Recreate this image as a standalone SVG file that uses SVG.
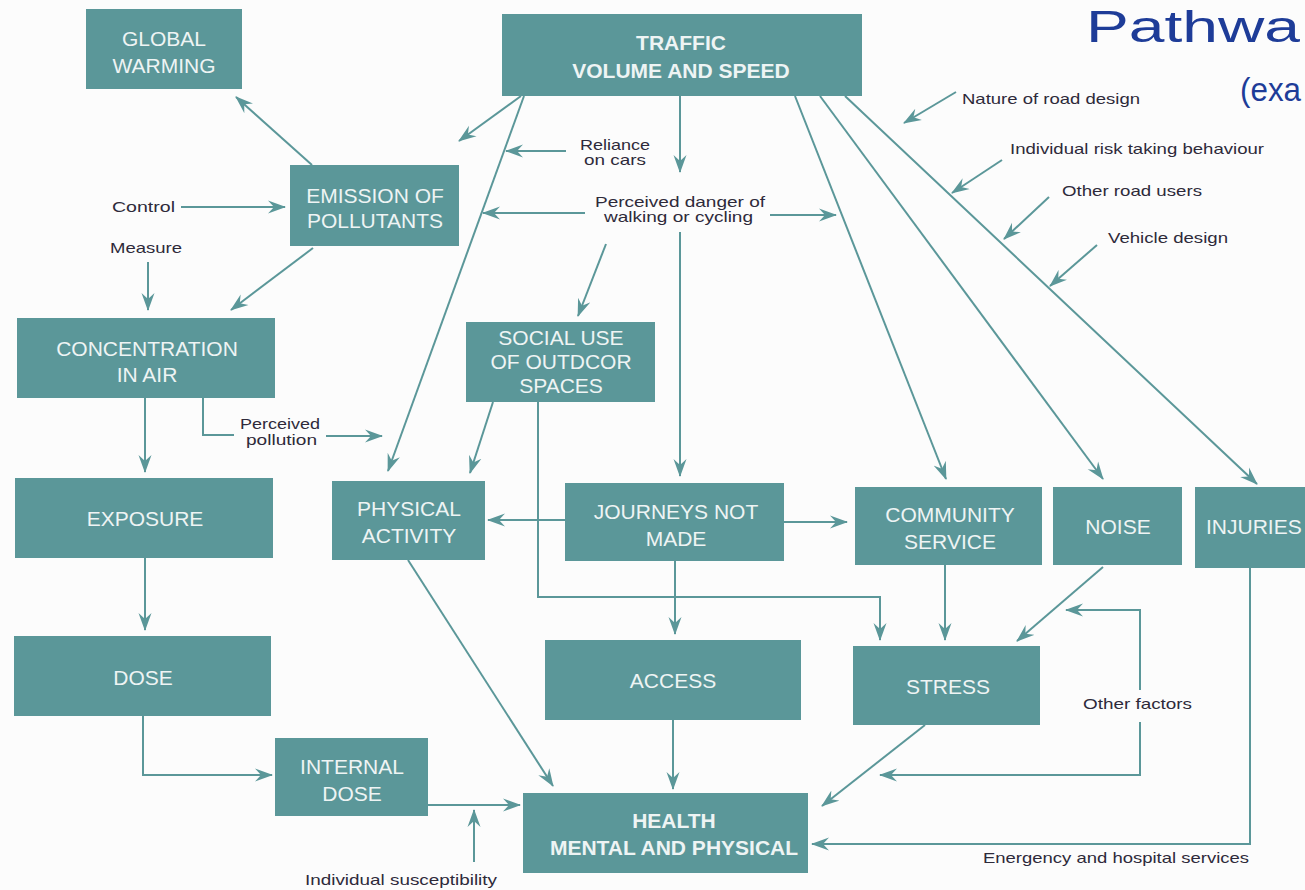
<svg xmlns="http://www.w3.org/2000/svg" width="1305" height="890" viewBox="0 0 1305 890">
<defs>
<marker id="ah" markerUnits="userSpaceOnUse" markerWidth="20" markerHeight="14" refX="17" refY="7" orient="auto">
<path d="M0,0.5 L18,7 L0,13.5 L6,7 z" fill="#5b9799"/>
</marker>
<style>
.n{fill:#5b9799}
.t{font-family:"Liberation Sans",Arial,sans-serif;font-size:21px;fill:#eef4f4;text-anchor:middle}
.b{font-weight:bold}
.l{font-family:"Liberation Sans",Arial,sans-serif;font-size:15px;fill:#2e2a3a}
.c{fill:none;stroke:#5b9799;stroke-width:2}
.a{marker-end:url(#ah)}
.ti{font-family:"Liberation Sans",Arial,sans-serif;fill:#1e3c98}
</style>
</defs>
<rect width="1305" height="890" fill="#fcfcfc"/>
<text class="ti" x="1086" y="42" font-size="44" textLength="214" lengthAdjust="spacingAndGlyphs">Pathwa</text>
<text class="ti" x="1240" y="101" font-size="34" textLength="61" lengthAdjust="spacingAndGlyphs">(exa</text>

<g id="connectors">
<line class="c a" x1="312" y1="165" x2="236" y2="97"/>
<line class="c a" x1="521" y1="96" x2="459" y2="141"/>
<line class="c a" x1="524" y1="96" x2="388" y2="471"/>
<line class="c a" x1="566" y1="151" x2="506" y2="151"/>
<line class="c a" x1="680" y1="96" x2="680" y2="172"/>
<line class="c a" x1="585" y1="213" x2="483" y2="213"/>
<line class="c a" x1="770" y1="215" x2="836" y2="215"/>
<line class="c a" x1="606" y1="244" x2="578" y2="316"/>
<line class="c a" x1="680" y1="232" x2="680" y2="476"/>
<line class="c a" x1="795" y1="96" x2="946" y2="479"/>
<line class="c a" x1="820" y1="96" x2="1103" y2="479"/>
<line class="c a" x1="845" y1="96" x2="1257" y2="484"/>
<line class="c a" x1="956" y1="92" x2="904" y2="123"/>
<line class="c a" x1="1002" y1="160" x2="952" y2="193"/>
<line class="c a" x1="1049" y1="197" x2="1004" y2="239"/>
<line class="c a" x1="1097" y1="245" x2="1050" y2="286"/>
<line class="c a" x1="181" y1="207" x2="285" y2="207"/>
<line class="c a" x1="148" y1="262" x2="148" y2="310"/>
<line class="c a" x1="313" y1="248" x2="231" y2="310"/>
<line class="c a" x1="145" y1="398" x2="145" y2="472"/>
<polyline class="c" points="203,398 203,435 234,435"/>
<line class="c a" x1="326" y1="436" x2="382" y2="436"/>
<line class="c a" x1="493" y1="402" x2="470" y2="473"/>
<polyline class="c a" points="538,402 538,597 880,597 880,640"/>
<line class="c a" x1="565" y1="520" x2="488" y2="520"/>
<line class="c a" x1="784" y1="522" x2="847" y2="522"/>
<line class="c a" x1="675" y1="561" x2="675" y2="634"/>
<line class="c a" x1="945" y1="565" x2="945" y2="640"/>
<line class="c a" x1="1103" y1="567" x2="1017" y2="641"/>
<polyline class="c a" points="1140,690 1140,610 1066,610"/>
<polyline class="c a" points="1140,722 1140,775 880,775"/>
<polyline class="c a" points="1250,568 1250,844 812,844"/>
<line class="c a" x1="925" y1="725" x2="822" y2="806"/>
<line class="c a" x1="673" y1="720" x2="673" y2="789"/>
<line class="c a" x1="408" y1="560" x2="553" y2="786"/>
<line class="c a" x1="145" y1="558" x2="145" y2="630"/>
<polyline class="c a" points="143,716 143,775 272,775"/>
<line class="c a" x1="428" y1="805" x2="520" y2="805"/>
<line class="c a" x1="474" y1="862" x2="474" y2="810"/>
</g>

<g id="labels">
<text class="l" x="962" y="104" textLength="178" lengthAdjust="spacingAndGlyphs">Nature of road design</text>
<text class="l" x="1010" y="154" textLength="254" lengthAdjust="spacingAndGlyphs">Individual risk taking behaviour</text>
<text class="l" x="1062" y="196" textLength="140" lengthAdjust="spacingAndGlyphs">Other road users</text>
<text class="l" x="1108" y="243" textLength="120" lengthAdjust="spacingAndGlyphs">Vehicle design</text>
<text class="l" x="580" y="150" textLength="70" lengthAdjust="spacingAndGlyphs">Reliance</text>
<text class="l" x="584" y="165" textLength="62" lengthAdjust="spacingAndGlyphs">on cars</text>
<text class="l" x="595" y="207" textLength="170" lengthAdjust="spacingAndGlyphs">Perceived danger of</text>
<text class="l" x="604" y="222" textLength="149" lengthAdjust="spacingAndGlyphs">walking or cycling</text>
<text class="l" x="112" y="212" textLength="63" lengthAdjust="spacingAndGlyphs">Control</text>
<text class="l" x="110" y="253" textLength="72" lengthAdjust="spacingAndGlyphs">Measure</text>
<text class="l" x="240" y="429" textLength="80" lengthAdjust="spacingAndGlyphs">Perceived</text>
<text class="l" x="246" y="445" textLength="71" lengthAdjust="spacingAndGlyphs">pollution</text>
<text class="l" x="1083" y="709" textLength="109" lengthAdjust="spacingAndGlyphs">Other factors</text>
<text class="l" x="983" y="863" textLength="266" lengthAdjust="spacingAndGlyphs">Energency and hospital services</text>
<text class="l" x="305" y="885" textLength="192" lengthAdjust="spacingAndGlyphs">Individual susceptibility</text>
</g>

<g id="global-warming"><rect class="n" x="86" y="9" width="156" height="80"/><text class="t" x="164" y="46">GLOBAL</text><text class="t" x="164" y="73">WARMING</text></g>
<g id="traffic"><rect class="n" x="502" y="14" width="360" height="82"/><text class="t b" x="681" y="50">TRAFFIC</text><text class="t b" x="681" y="78">VOLUME AND SPEED</text></g>
<g id="emission"><rect class="n" x="290" y="165" width="169" height="81"/><text class="t" x="375" y="203">EMISSION OF</text><text class="t" x="375" y="228">POLLUTANTS</text></g>
<g id="concentration"><rect class="n" x="17" y="318" width="258" height="80"/><text class="t" x="147" y="356">CONCENTRATION</text><text class="t" x="147" y="382">IN AIR</text></g>
<g id="social-use"><rect class="n" x="466" y="322" width="189" height="80"/><text class="t" x="561" y="345">SOCIAL USE</text><text class="t" x="561" y="369">OF OUTDCOR</text><text class="t" x="561" y="393">SPACES</text></g>
<g id="exposure"><rect class="n" x="15" y="478" width="258" height="80"/><text class="t" x="145" y="526">EXPOSURE</text></g>
<g id="physical-activity"><rect class="n" x="332" y="481" width="153" height="79"/><text class="t" x="409" y="516">PHYSICAL</text><text class="t" x="409" y="543">ACTIVITY</text></g>
<g id="journeys"><rect class="n" x="565" y="483" width="219" height="78"/><text class="t" x="676" y="519">JOURNEYS NOT</text><text class="t" x="676" y="546">MADE</text></g>
<g id="community"><rect class="n" x="855" y="487" width="187" height="78"/><text class="t" x="950" y="522">COMMUNITY</text><text class="t" x="950" y="549">SERVICE</text></g>
<g id="noise"><rect class="n" x="1053" y="487" width="129" height="78"/><text class="t" x="1118" y="534">NOISE</text></g>
<g id="injuries"><rect class="n" x="1195" y="487" width="115" height="81"/><text class="t" x="1206" y="534" style="text-anchor:start">INJURIES</text></g>
<g id="dose"><rect class="n" x="14" y="636" width="257" height="80"/><text class="t" x="143" y="685">DOSE</text></g>
<g id="access"><rect class="n" x="545" y="640" width="256" height="80"/><text class="t" x="673" y="688">ACCESS</text></g>
<g id="stress"><rect class="n" x="853" y="646" width="187" height="79"/><text class="t" x="948" y="694">STRESS</text></g>
<g id="internal-dose"><rect class="n" x="275" y="738" width="153" height="78"/><text class="t" x="352" y="774">INTERNAL</text><text class="t" x="352" y="801">DOSE</text></g>
<g id="health"><rect class="n" x="523" y="793" width="285" height="80"/><text class="t b" x="674" y="828">HEALTH</text><text class="t b" x="674" y="855">MENTAL AND PHYSICAL</text></g>
</svg>
